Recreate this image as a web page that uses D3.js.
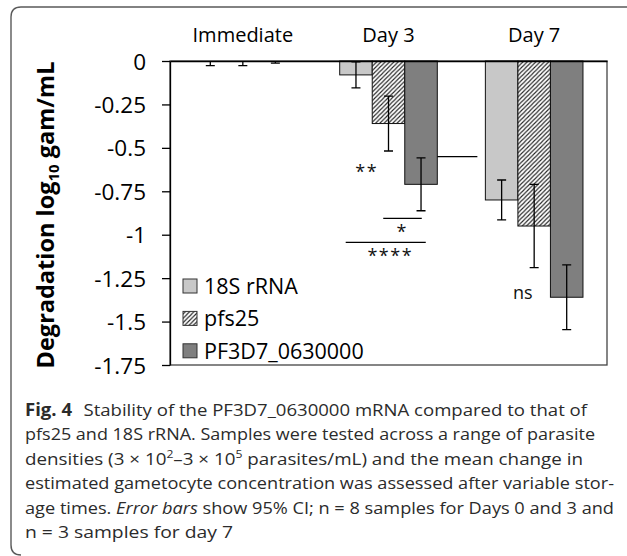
<!DOCTYPE html>
<html>
<head>
<meta charset="utf-8">
<script src="https://cdn.jsdelivr.net/npm/d3@7"></script>
<style>
  html, body { margin: 0; padding: 0; background: #fff; }
  svg { display: block; }
  text { font-family: "Open Sans", "Noto Sans", sans-serif; }
</style>
</head>
<body>
<div id="myChart"></div>
<script>
// values (log10 change in gametocyte concentration)
var categories = ["Immediate", "Day 3", "Day 7"];
var seriesNames = ["18S rRNA", "pfs25", "PF3D7_0630000"];
var rrna18s = [0, -0.08, -0.80];
var pfs25 = [0, -0.36, -0.95];
var pf3d7 = [0, -0.71, -1.36];
// 95% CI half widths
var ci18s = [0.027, 0.075, 0.115];
var ciPfs25 = [0.027, 0.158, 0.24];
var ciPf3d7 = [0.012, 0.152, 0.186];
var tickValues = [0, -0.25, -0.5, -0.75, -1, -1.25, -1.5, -1.75];
var tickLabels = ["0", "-0.25", "-0.5", "-0.75", "-1", "-1.25", "-1.5", "-1.75"];
var sigLabels = ["**", "*", "****", "ns"];

(function () {
  var W = 627, H = 556;
  var pLeft = 170, pRight = 607, pTop = 61, pBottom = 365;

  var series = [
    { name: seriesNames[0], values: rrna18s, ci: ci18s, fill: "#c8c8c8" },
    { name: seriesNames[1], values: pfs25, ci: ciPfs25, fill: "url(#hatch)" },
    { name: seriesNames[2], values: pf3d7, ci: ciPf3d7, fill: "#7f7f7f" }
  ];

  var svg = d3.select("#myChart").append("svg")
    .attr("width", W)
    .attr("height", H);

  var defs = svg.append("defs");
  var pat = defs.append("pattern")
    .attr("id", "hatch")
    .attr("patternUnits", "userSpaceOnUse")
    .attr("width", 4.3)
    .attr("height", 4.3);
  pat.append("rect").attr("width", 4.3).attr("height", 4.3).attr("fill", "#fff");
  pat.append("path")
    .attr("d", "M-1,1 L1,-1 M0,4.3 L4.3,0 M3.3,5.3 L5.3,3.3")
    .attr("stroke", "#222")
    .attr("stroke-width", 1.1);

  defs.append("clipPath").attr("id", "plotClip")
    .append("rect")
    .attr("x", pLeft - 10)
    .attr("y", pTop)
    .attr("width", pRight - pLeft + 20)
    .attr("height", pBottom - pTop);

  // outer figure frame (rounded corner on the left)
  svg.append("path")
    .attr("d", "M" + (W + 2) + ",7 L21,7 Q11,7 11,17 L11,545 Q11,555 21,555")
    .attr("fill", "none")
    .attr("stroke", "#5a5a5a")
    .attr("stroke-width", 1.4);

  var y = d3.scaleLinear().domain([0, -1.75]).range([pTop, pBottom]);
  var x = d3.scaleBand().domain(categories).range([pLeft, pRight])
    .paddingInner(0.33).paddingOuter(0.165);
  var xs = d3.scaleBand().domain(seriesNames).range([0, x.bandwidth()]);

  // plot area border
  svg.append("rect")
    .attr("x", pLeft)
    .attr("y", pTop)
    .attr("width", pRight - pLeft)
    .attr("height", pBottom - pTop)
    .attr("fill", "none")
    .attr("stroke", "#444")
    .attr("stroke-width", 1.3);

  var groups = svg.selectAll(".series")
    .data(series)
    .enter()
    .append("g")
    .attr("class", "series");

  groups.selectAll("rect")
    .data(function (s) {
      return s.values.map(function (v, i) {
        return { name: s.name, cat: categories[i], v: v, ci: s.ci[i], fill: s.fill };
      });
    })
    .enter()
    .append("rect")
    .attr("x", function (d) { return x(d.cat) + xs(d.name); })
    .attr("y", y(0))
    .attr("width", xs.bandwidth())
    .attr("height", function (d) { return y(d.v) - y(0); })
    .attr("fill", function (d) { return d.fill; })
    .attr("stroke", "#111")
    .attr("stroke-width", 1);

  // error bars
  var errG = svg.append("g").attr("clip-path", "url(#plotClip)");
  series.forEach(function (s) {
    s.values.forEach(function (v, i) {
      var cx = x(categories[i]) + xs(s.name) + xs.bandwidth() / 2;
      var y1 = y(v + s.ci[i]), y2 = y(v - s.ci[i]);
      errG.append("path")
        .attr("d", "M" + cx + "," + y1 + "V" + y2 +
          "M" + (cx - 4.5) + "," + y1 + "H" + (cx + 4.5) +
          "M" + (cx - 4.5) + "," + y2 + "H" + (cx + 4.5))
        .attr("fill", "none")
        .attr("stroke", "#000")
        .attr("stroke-width", 1.3);
    });
  });

  // y axis
  var yAxis = svg.append("g")
    .attr("transform", "translate(" + pLeft + ",0)")
    .call(d3.axisLeft(y)
      .tickValues(tickValues)
      .tickFormat(function (d, i) { return tickLabels[i]; })
      .tickSize(8)
      .tickSizeOuter(0)
      .tickPadding(16));
  yAxis.selectAll("text")
    .attr("font-size", 22.5)
    .attr("fill", "#000")
    .attr("dy", "0.36em");
  yAxis.selectAll("line, path").attr("stroke", "#000").attr("stroke-width", 1.3);

  // category axis along zero line with labels on top
  var xAxis = svg.append("g")
    .attr("transform", "translate(0," + pTop + ")")
    .call(d3.axisTop(x).tickSize(0).tickSizeOuter(0).tickPadding(19));
  xAxis.selectAll("text").attr("font-size", 20).attr("fill", "#000");
  xAxis.select(".domain").attr("stroke", "#000").attr("stroke-width", 1.5);

  // significance marks
  function barX(cat, k) { return x(cat) + xs(seriesNames[k]); }
  var ann = svg.append("g").attr("stroke", "#000").attr("stroke-width", 1.3);
  ann.append("line")
    .attr("x1", barX("Day 3", 2) + xs.bandwidth()).attr("x2", x("Day 7") - 8)
    .attr("y1", y(-0.551)).attr("y2", y(-0.551));
  ann.append("line")
    .attr("x1", barX("Day 3", 1) + 11).attr("x2", barX("Day 3", 2) + 17)
    .attr("y1", y(-0.906)).attr("y2", y(-0.906));
  ann.append("line")
    .attr("x1", barX("Day 3", 0) + 6).attr("x2", barX("Day 3", 2) + 21)
    .attr("y1", y(-1.044)).attr("y2", y(-1.044));

  var sigPos = [
    { x: barX("Day 3", 0) + 27, v: -0.608 },
    { x: barX("Day 3", 1) + 30, v: -0.955 },
    { x: barX("Day 3", 1) + 18, v: -1.092 },
    { x: barX("Day 7", 1) + 5, v: -1.338 }
  ];
  svg.selectAll(".sig")
    .data(sigLabels)
    .enter()
    .append("text")
    .attr("class", "sig")
    .attr("x", function (d, i) { return sigPos[i].x; })
    .attr("y", function (d, i) { return y(sigPos[i].v); })
    .attr("dy", function (d) { return d === "ns" ? "0.33em" : "0.62em"; })
    .attr("text-anchor", "middle")
    .attr("font-size", 18)
    .attr("letter-spacing", function (d) { return d === "ns" ? 0 : 1.5; })
    .attr("fill", "#111")
    .text(function (d) { return d; });

  // legend
  var legend = svg.selectAll(".legend")
    .data(series)
    .enter()
    .append("g")
    .attr("class", "legend")
    .attr("transform", function (d, i) { return "translate(183," + (286 + i * 32.4) + ")"; });
  legend.append("rect")
    .attr("x", 0).attr("y", -7)
    .attr("width", 14).attr("height", 14)
    .attr("fill", function (d) { return d.fill; })
    .attr("stroke", "#333")
    .attr("stroke-width", 1);
  legend.append("text")
    .attr("x", 21)
    .attr("dy", "0.36em")
    .attr("font-size", 21.5)
    .attr("fill", "#000")
    .text(function (d) { return d.name; });

  // y axis title
  var yt = svg.append("text")
    .attr("transform", "translate(54,215) rotate(-90)")
    .attr("text-anchor", "middle")
    .attr("font-size", 23.5)
    .attr("font-weight", "bold")
    .attr("fill", "#000");
  yt.append("tspan").text("Degradation log");
  yt.append("tspan").attr("font-size", 15).attr("dy", 5).text("10");
  yt.append("tspan").attr("dy", -5).text(" gam/mL");

  // caption
  var capX = 25, capY = 416, capStep = 24.4;
  var capWidths = [562, 570, 558, 589, 589, 208];
  var cap = svg.append("g").attr("fill", "#2b2b2b").attr("font-size", 17);
  function capLine(i) {
    return cap.append("text")
      .attr("x", capX)
      .attr("y", capY + i * capStep)
      .attr("textLength", capWidths[i])
      .attr("lengthAdjust", "spacingAndGlyphs");
  }
  var l1 = capLine(0);
  l1.append("tspan").attr("font-weight", "bold").text("Fig. 4");
  l1.append("tspan").attr("dx", 6).text(" Stability of the PF3D7_0630000 mRNA compared to that of");
  capLine(1).text("pfs25 and 18S rRNA. Samples were tested across a range of parasite");
  var l3 = capLine(2);
  l3.append("tspan").text("densities (3 \u00d7 10");
  l3.append("tspan").attr("font-size", 11).attr("dy", -7).text("2");
  l3.append("tspan").attr("dy", 7).text("\u20133 \u00d7 10");
  l3.append("tspan").attr("font-size", 11).attr("dy", -7).text("5");
  l3.append("tspan").attr("dy", 7).text(" parasites/mL) and the mean change in");
  capLine(3).text("estimated gametocyte concentration was assessed after variable stor-");
  var l5 = capLine(4);
  l5.append("tspan").text("age times. ");
  l5.append("tspan").attr("font-style", "italic").text("Error bars");
  l5.append("tspan").text(" show 95% CI; n = 8 samples for Days 0 and 3 and");
  capLine(5).text("n = 3 samples for day 7");
})();
</script>
</body>
</html>
